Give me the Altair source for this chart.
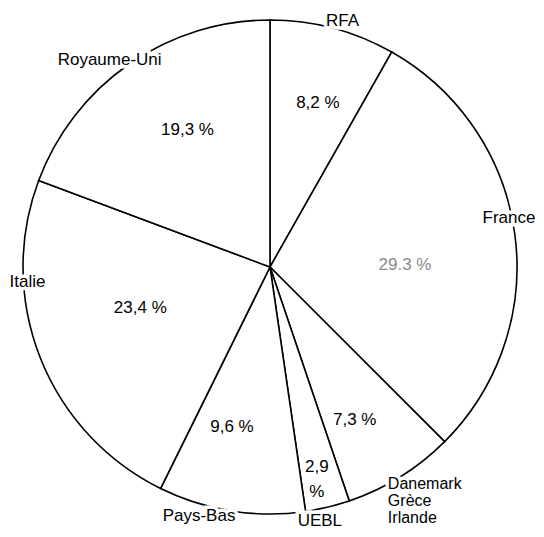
import altair as alt
import numpy as np
import pandas as pd

# ---- data ----
countries = ["RFA", "France", "Danemark\nGrèce\nIrlande", "UEBL", "Pays-Bas", "Italie", "Royaume-Uni"]
shares = [8.2, 29.3, 7.3, 2.9, 9.6, 23.4, 19.3]
pct_labels = ["8,2 %", "29.3 %", "7,3 %", "2,9\n%", "9,6 %", "23,4 %", "19,3 %"]

# ---- label placement tweaks (degrees relative to slice middle, radius in px) ----
name_shift = [1.7, -3.9, 2.45, 2.4, 6.9, 18.1, -3.0]
name_radius = [256, 244, 240, 259, 259, 243, 262]
pct_shift = [1.5, 6.7, 2.9, 0.3, 4.4, 4.1, 3.7]
pct_radius = [171, 135, 175, 205, 164, 136, 160]
pct_colors = ["black", "#8a8a8a", "black", "black", "black", "black", "black"]

R = 247
FONT = "Liberation Sans"
FS = 17

s = np.array(shares)
cum = np.cumsum(s) - s
mid_deg = (cum + s / 2) / s.sum() * 360

df = pd.DataFrame({
    "idx": range(len(countries)),
    "country": countries,
    "share": shares,
    "pct": pct_labels,
    "pcol": pct_colors,
    "name_theta": np.radians(mid_deg + np.array(name_shift)),
    "name_r": name_radius,
    "pct_theta": np.radians(mid_deg + np.array(pct_shift)),
    "pct_r": pct_radius,
})

base = alt.Chart(df)

pie = base.mark_arc(radius=R, fill="white", stroke="black", strokeWidth=1.6).encode(
    theta=alt.Theta("share:Q", stack=True),
    order=alt.Order("idx:Q"),
)

single = df["idx"] != 2

def name_layer(data, halo, align, baseline, fs, lh):
    mk = dict(font=FONT, fontSize=fs, align=align, baseline=baseline,
              lineBreak="\n", lineHeight=lh)
    if halo:
        mk.update(stroke="white", strokeWidth=7, fill="white")
    else:
        mk.update(fill="black")
    return alt.Chart(data).mark_text(**mk).encode(
        theta=alt.Theta("name_theta:Q", scale=None, stack=False),
        radius=alt.Radius("name_r:Q", scale=None),
        text="country:N",
    )

names_single = df[single]
names_multi = df[~single]

pct_text = base.mark_text(font=FONT, fontSize=FS, lineBreak="\n", lineHeight=25).encode(
    theta=alt.Theta("pct_theta:Q", scale=None, stack=False),
    radius=alt.Radius("pct_r:Q", scale=None),
    text="pct:N",
    color=alt.Color("pcol:N", scale=None),
)

chart = alt.layer(
    pie,
    name_layer(names_single, True, "center", "middle", FS, 18),
    name_layer(names_single, False, "center", "middle", FS, 18),
    name_layer(names_multi, True, "left", "top", 16, 17),
    name_layer(names_multi, False, "left", "top", 16, 17),
    pct_text,
).resolve_scale(theta="independent", radius="independent").properties(
    width=524, height=518,
    padding={"left": 0, "top": 0, "right": 4, "bottom": 3},
    autosize=alt.AutoSizeParams(type="none"),
    background="white",
).configure_view(stroke=None)

chart.save("out.html", embed_options={"renderer": "svg", "actions": False})
